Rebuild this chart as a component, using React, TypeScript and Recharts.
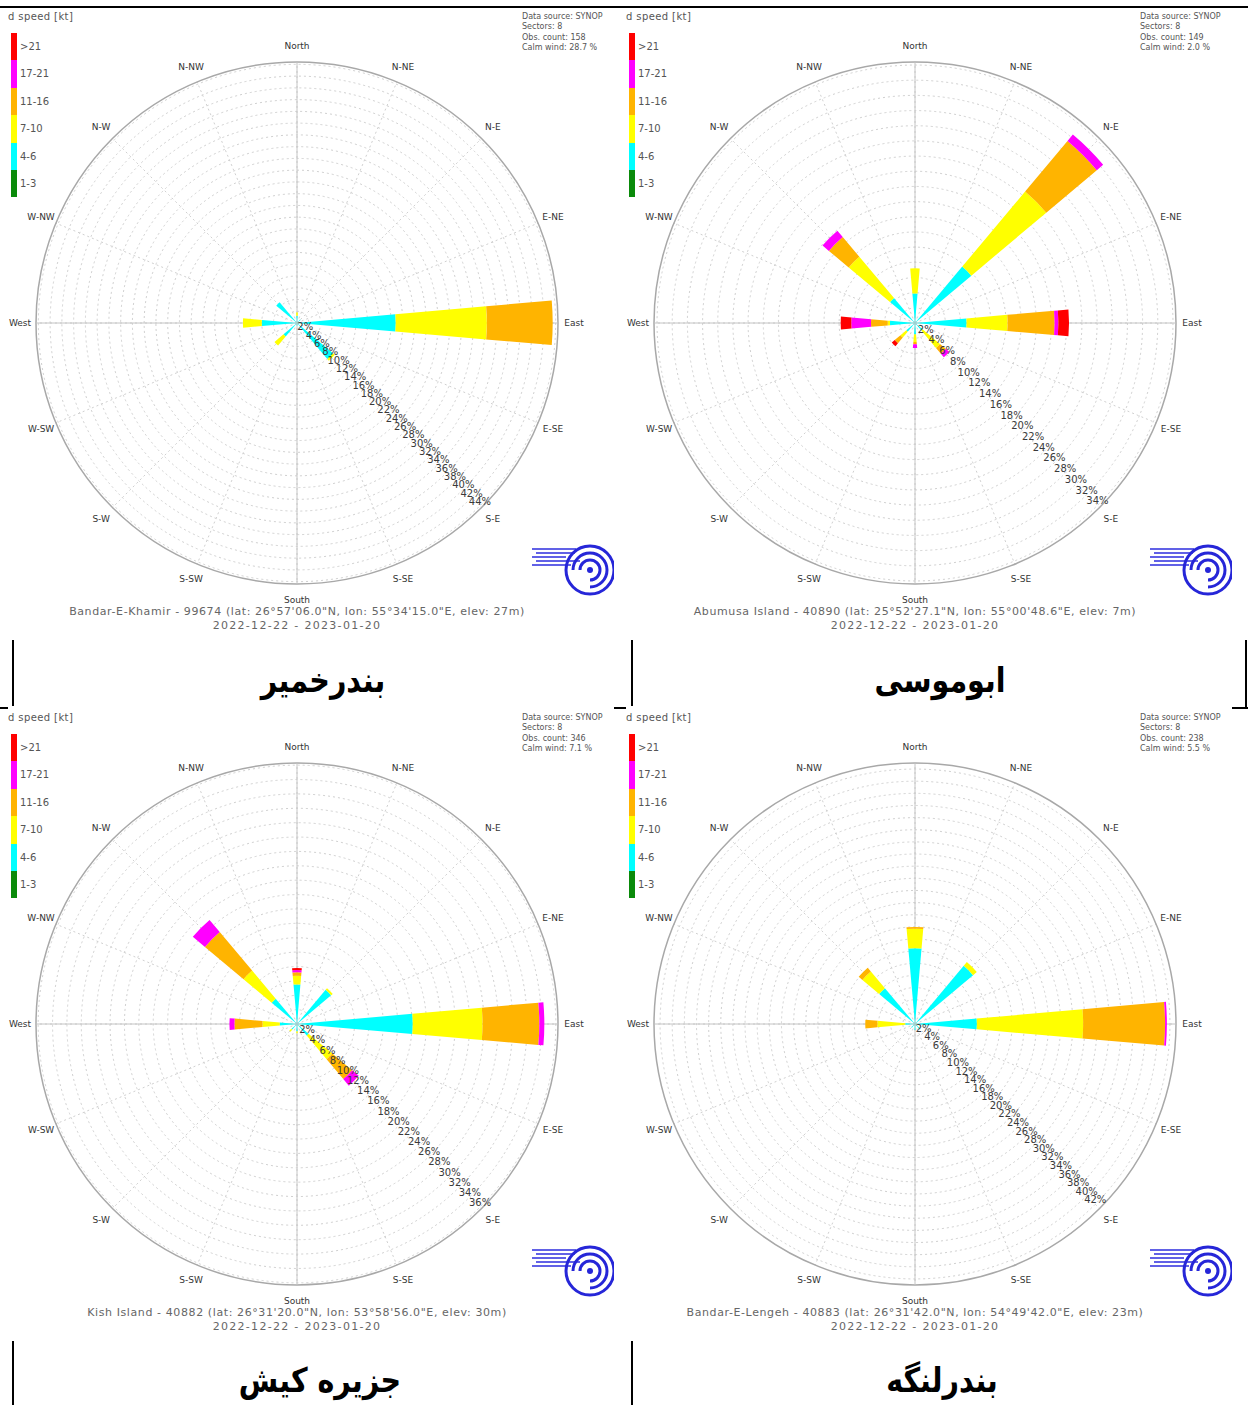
import React from 'react';
import {
  RadialBarChart, RadialBar, RadarChart, PolarAngleAxis, PolarRadiusAxis, PolarGrid,
} from 'recharts';

// 8 wind sectors, clockwise from north
const sectors = ['N', 'NE', 'E', 'SE', 'S', 'SW', 'W', 'NW'];
const compassLabels = ['North', 'N-NE', 'N-E', 'E-NE', 'East', 'E-SE', 'S-E', 'S-SE', 'South', 'S-SW', 'S-W', 'W-SW', 'West', 'W-NW', 'N-W', 'N-NW'];
const mainAxes = ['North', 'East', 'South', 'West'];
const legendClasses = ['>21', '17-21', '11-16', '7-10', '4-6', '1-3'];
const speedKeys = ['k1', 'k4', 'k7', 'k11', 'k17', 'k21'];
const speedColors: Record<string, string> = {
  k1: '#0a8a0a', k4: '#00ffff', k7: '#ffff00', k11: '#ffb400', k17: '#ff00ff', k21: '#ff0000',
};
const legendColors = ['#ff0000', '#ff00ff', '#ffb400', '#ffff00', '#00ffff', '#0a8a0a'];

// Bandar-E-Khamir, % per sector
const khamir1to3 = [0, 0, 0, 0, 0, 0, 0, 0];
const khamir4to6 = [1.2, 0.8, 16.8, 8.0, 0.5, 3.0, 6.0, 4.6];
const khamir7to10 = [0.6, 0, 15.5, 0.4, 0, 2.0, 3.2, 0];
const khamir11to16 = [0, 0, 11.2, 0, 0, 0, 0, 0];
const khamir17to21 = [0, 0, 0, 0, 0, 0, 0, 0];
const khamirOver21 = [0, 0, 0, 0, 0, 0, 0, 0];

// Abumusa Island
const abumusa1to3 = [0, 0, 0, 0, 0, 0, 0, 0];
const abumusa4to6 = [3.9, 9.7, 6.8, 1.3, 1.5, 1.5, 3.3, 4.3];
const abumusa7to10 = [3.3, 12.9, 5.4, 3.0, 1.0, 1.0, 0.3, 7.1];
const abumusa11to16 = [0, 8.7, 6.2, 1.0, 0.3, 1.0, 2.2, 3.4];
const abumusa17to21 = [0, 1.1, 0.5, 0.6, 0.5, 0, 2.6, 1.1];
const abumusaOver21 = [0, 0, 1.4, 0, 0, 0.5, 1.4, 0];

// Kish Island
const kish1to3 = [0, 0, 0, 0, 0, 0, 0, 0];
const kish4to6 = [5.5, 6.2, 16.1, 2.1, 1.0, 1.0, 2.4, 4.6];
const kish7to10 = [1.2, 0.3, 9.7, 4.3, 0.3, 0.4, 2.4, 5.1];
const kish11to16 = [0.5, 0, 7.9, 3.6, 0, 0, 3.9, 7.0];
const kish17to21 = [0.3, 0, 0.7, 1.2, 0, 0, 0.7, 2.2];
const kishOver21 = [0.3, 0, 0, 0, 0, 0, 0, 0];

// Bandar-E-Lengeh
const lengeh1to3 = [0, 0, 0, 0, 0, 0, 0, 0];
const lengeh4to6 = [12.5, 12.5, 10.2, 1.2, 1.0, 0.8, 1.6, 7.7];
const lengeh7to10 = [3.2, 0.8, 17.5, 0, 0, 0, 4.6, 3.6];
const lengeh11to16 = [0.3, 0, 13.5, 0, 0, 0, 2.0, 0.8];
const lengeh17to21 = [0, 0, 0.3, 0, 0, 0, 0, 0];
const lengehOver21 = [0, 0, 0, 0, 0, 0, 0, 0];

const stations = [
  {
    id: 'khamir', rMax: 44.4, tickMax: 44, obs: 158, calm: '28.7',
    station: 'Bandar-E-Khamir - 99674 (lat: 26°57\'06.0"N, lon: 55°34\'15.0"E, elev: 27m)',
    caption: 'بندرخمیر',
    series: [khamir1to3, khamir4to6, khamir7to10, khamir11to16, khamir17to21, khamirOver21],
  },
  {
    id: 'abumusa', rMax: 34.4, tickMax: 34, obs: 149, calm: '2.0',
    station: 'Abumusa Island - 40890 (lat: 25°52\'27.1"N, lon: 55°00\'48.6"E, elev: 7m)',
    caption: 'ابوموسی',
    series: [abumusa1to3, abumusa4to6, abumusa7to10, abumusa11to16, abumusa17to21, abumusaOver21],
  },
  {
    id: 'kish', rMax: 36.3, tickMax: 36, obs: 346, calm: '7.1',
    station: 'Kish Island - 40882 (lat: 26°31\'20.0"N, lon: 53°58\'56.0"E, elev: 30m)',
    caption: 'جزیره کیش',
    series: [kish1to3, kish4to6, kish7to10, kish11to16, kish17to21, kishOver21],
  },
  {
    id: 'lengeh', rMax: 43, tickMax: 42, obs: 238, calm: '5.5',
    station: 'Bandar-E-Lengeh - 40883 (lat: 26°31\'42.0"N, lon: 54°49\'42.0"E, elev: 23m)',
    caption: 'بندرلنگه',
    series: [lengeh1to3, lengeh4to6, lengeh7to10, lengeh11to16, lengeh17to21, lengehOver21],
  },
];
const period = '2022-12-22 - 2023-01-20';

const panelPos = [
  { left: 8, top: 8, height: 632, cy: 315, capX: 323, capY: 680 },
  { left: 626, top: 8, height: 632, cy: 315, capX: 940, capY: 680 },
  { left: 8, top: 706, height: 635, cy: 318, capX: 320, capY: 1380 },
  { left: 626, top: 706, height: 635, cy: 318, capX: 942, capY: 1380 },
];

const FONT = '"DejaVu Sans", Verdana, sans-serif';
const W = 606;
const R = 261;

function RadiusTick(props: any) {
  const { x, y, payload } = props;
  return (
    <text x={x} y={y} dy={-1} textAnchor="middle" fontSize={10} fill="#3a3a3a" fontFamily={FONT}>
      {payload.value}%
    </text>
  );
}

function CompassTick(props: any) {
  const { x, y, payload } = props;
  return (
    <text x={x} y={y} textAnchor="middle" dominantBaseline="central" fontSize={9} fill="#333" fontFamily={FONT}>
      {payload.value}
    </text>
  );
}

function Logo({ top }: { top: number }) {
  return (
    <svg style={{ position: 'absolute', left: 518, top }} width={92} height={58}>
      {[6, 10, 14, 18, 22].map((y, i) => (
        <rect key={y} x={6 + (i % 2) * 4} y={y} width={44 - (i % 3) * 5} height={2} fill="#3a3ae0" opacity={0.8} />
      ))}
      <circle cx={64} cy={28} r={24} fill="none" stroke="#2626d8" strokeWidth={3} />
      <path d="M64 28 m-17 0 a17 17 0 1 1 17 17" fill="none" stroke="#2626d8" strokeWidth={3} />
      <path d="M64 28 m-10 0 a10 10 0 1 1 10 10" fill="none" stroke="#2626d8" strokeWidth={3} />
      <circle cx={64} cy={28} r={3} fill="#2626d8" />
    </svg>
  );
}

function WindRose({ st, pos }: { st: any; pos: any }) {
  const data = sectors.map((dir, i) => {
    const row: Record<string, string | number> = { dir };
    speedKeys.forEach((k, j) => {
      row[k] = st.series[j][i];
    });
    return row;
  });
  const compassData = compassLabels.map((dir) => ({ dir }));
  const crossData = mainAxes.map((dir) => ({ dir }));
  const radiusTicks = Array.from({ length: st.tickMax / 2 }, (_, i) => (i + 1) * 2);
  const dy = pos.cy - 315;
  const small = { position: 'absolute' as const, color: '#555', fontFamily: FONT };
  const layer = { position: 'absolute' as const, left: 0, top: 0 };
  const polar = { width: W, height: pos.height, cx: 289, cy: pos.cy, innerRadius: 0, outerRadius: R, margin: { top: 0, right: 0, bottom: 0, left: 0 } };

  return (
    <div style={{ position: 'absolute', left: pos.left, top: pos.top, width: W, height: pos.height, background: '#fff', overflow: 'hidden' }}>
      {/* dashed grid + compass labels */}
      <div style={layer}>
        <RadarChart {...polar} data={compassData}>
          <PolarGrid gridType="circle" stroke="#d0d0d0" strokeDasharray="2 3" />
          <PolarAngleAxis
            dataKey="dir"
            tickSize={16}
            tickLine={false}
            axisLineType="circle"
            axisLine={{ stroke: '#a8a8a8', strokeWidth: 1.5 }}
            tick={<CompassTick />}
          />
          <PolarRadiusAxis
            type="number"
            domain={[0, st.rMax]}
            allowDataOverflow
            ticks={radiusTicks}
            axisLine={false}
            tickLine={false}
            tick={false}
          />
        </RadarChart>
      </div>

      {/* solid N-S / E-W axes */}
      <div style={layer}>
        <RadarChart {...polar} data={crossData}>
          <PolarGrid polarRadius={[]} stroke="#c4c4c4" />
          <PolarAngleAxis dataKey="dir" tick={false} tickLine={false} axisLine={false} />
        </RadarChart>
      </div>

      {/* stacked wind sectors + percent labels */}
      <div style={layer}>
        <RadialBarChart
          {...polar}
          data={data}
          startAngle={67.5}
          endAngle={-292.5}
          layout="centric"
          barCategoryGap="39%"
        >
          {speedKeys.map((k) => (
            <RadialBar
              key={k}
              dataKey={k}
              stackId="a"
              fill={speedColors[k]}
              stroke="none"
              isAnimationActive={false}
            />
          ))}
          <PolarAngleAxis dataKey="dir" type="category" tick={false} axisLine={false} tickLine={false} />
          <PolarRadiusAxis
            angle={-45}
            type="number"
            domain={[0, st.rMax]}
            allowDataOverflow
            ticks={radiusTicks}
            axisLine={false}
            tickLine={false}
            tick={<RadiusTick />}
          />
        </RadialBarChart>
      </div>

      {/* speed legend */}
      <div style={{ ...small, left: -20, top: 3 + dy, fontSize: 10, letterSpacing: 0.4, whiteSpace: 'nowrap' }}>Wind speed [kt]</div>
      {legendClasses.map((c, i) => (
        <React.Fragment key={c}>
          <div style={{ position: 'absolute', left: 3, top: 25 + dy + i * 27.4, width: 6, height: 27.4, background: legendColors[i] }} />
          <div style={{ ...small, left: 12, top: 33 + dy + i * 27.4, fontSize: 10, lineHeight: '12px' }}>{c}</div>
        </React.Fragment>
      ))}

      {/* info box */}
      <div style={{ ...small, left: 514, top: 4 + dy, fontSize: 8, lineHeight: '10.4px', whiteSpace: 'nowrap' }}>
        <div>Data source: SYNOP</div>
        <div>Sectors: 8</div>
        <div>Obs. count: {st.obs}</div>
        <div>Calm wind: {st.calm} %</div>
      </div>

      <Logo top={534 + dy} />

      {/* station footer */}
      <div style={{ ...small, left: 0, width: 578, top: 597 + dy, fontSize: 11, lineHeight: '14px', textAlign: 'center', whiteSpace: 'nowrap', color: '#666' }}>
        <div style={{ letterSpacing: 0.6 }}>{st.station}</div>
        <div style={{ letterSpacing: 1.3 }}>{period}</div>
      </div>
    </div>
  );
}

export default function App() {
  const line = (l: number, t: number, w: number, h: number) => (
    <div style={{ position: 'absolute', left: l, top: t, width: w, height: h, background: '#000' }} />
  );
  return (
    <div style={{ position: 'relative', width: 1248, height: 1405, background: '#fff', overflow: 'hidden' }}>
      <style>{'body{margin:0}'}</style>
      {line(0, 6, 1248, 2)}
      {line(0, 707, 1248, 2)}
      {line(12, 640, 2, 67)}
      {line(631, 640, 2, 67)}
      {line(1245, 640, 2, 67)}
      {line(12, 1341, 2, 64)}
      {line(631, 1341, 2, 64)}
      {stations.map((st, i) => (
        <WindRose key={st.id} st={st} pos={panelPos[i]} />
      ))}
      {stations.map((st, i) => (
        <div
          key={st.id + '-cap'}
          dir="rtl"
          style={{
            position: 'absolute',
            left: panelPos[i].capX - 200,
            width: 400,
            top: panelPos[i].capY - 24,
            textAlign: 'center',
            fontFamily: FONT,
            fontWeight: 900,
            fontSize: 34,
            lineHeight: '48px',
            color: '#000',
            transform: 'scaleX(0.84)',
          }}
        >
          {st.caption}
        </div>
      ))}
    </div>
  );
}
